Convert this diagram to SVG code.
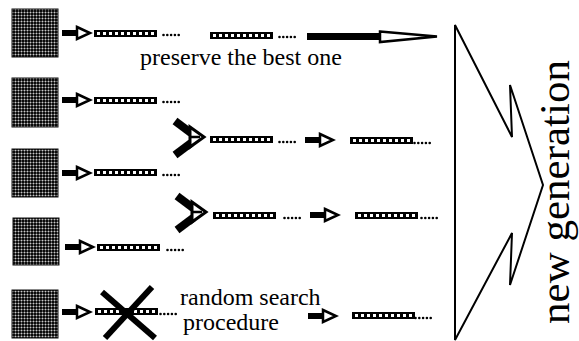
<svg xmlns="http://www.w3.org/2000/svg" xmlns:xlink="http://www.w3.org/1999/xlink" width="579" height="341" viewBox="0 0 579 341">
<style>
.txt{font-family:"Liberation Serif","Times New Roman",serif;fill:#000}
.sq{fill:url(#grid);stroke:#111;stroke-width:1}
.cross{stroke:#000;stroke-width:6;fill:none}
.big{fill:#fff;stroke:#000;stroke-width:2;stroke-linejoin:miter}
</style>
<defs>
<pattern id="grid" width="3" height="3" patternUnits="userSpaceOnUse">
<rect width="3" height="3" fill="#0a0a0a"/>
<rect x="0" y="0" width="3" height="1" fill="#555"/>
<rect x="0" y="0" width="1" height="3" fill="#555"/>
<rect x="0" y="0" width="1" height="1" fill="#c8c8c8"/>
</pattern>
<g id="chrom">
<rect x="0" y="0" width="63" height="7" fill="#000"/>
<rect x="3" y="2" width="3" height="3" fill="#fff"/>
<rect x="9" y="2" width="3" height="3" fill="#fff"/>
<rect x="15" y="2" width="3" height="3" fill="#fff"/>
<rect x="21" y="2" width="3" height="3" fill="#fff"/>
<rect x="27" y="2" width="3" height="3" fill="#fff"/>
<rect x="33" y="2" width="3" height="3" fill="#fff"/>
<rect x="39" y="2" width="3" height="3" fill="#fff"/>
<rect x="45" y="2" width="3" height="3" fill="#fff"/>
<rect x="51" y="2" width="3" height="3" fill="#fff"/>
<rect x="57" y="2" width="3" height="3" fill="#fff"/>
</g>
<g id="dots" fill="#000">
<circle cx="1.5" cy="0" r="1.3"/>
<circle cx="5.3" cy="0" r="1.3"/>
<circle cx="9.1" cy="0" r="1.3"/>
<circle cx="12.9" cy="0" r="1.3"/>
<circle cx="16.7" cy="0" r="1.3"/>
</g>
<g id="arr">
<rect x="0" y="-3" width="16" height="6" fill="#000"/>
<polygon points="15,-6 28,0 15,6" fill="#fff" stroke="#000" stroke-width="2.5"/>
</g>
<g id="merge">
<line x1="-29" y1="-16" x2="-13" y2="-4" stroke="#000" stroke-width="8"/>
<line x1="-29" y1="18" x2="-13" y2="6" stroke="#000" stroke-width="8"/>
<polygon points="-14,-10 0,0 -14,10" fill="#fff" stroke="#000" stroke-width="3"/>
<line x1="-14" y1="0" x2="-4" y2="0" stroke="#000" stroke-width="2.5"/>
</g>
</defs>
<rect width="579" height="341" fill="#fff"/>

<g id="row1">
<rect class="sq" x="12" y="9" width="46" height="48"/>
<use href="#chrom" x="94" y="30"/>
<use href="#dots" x="162" y="35"/>
<use href="#chrom" x="210" y="32"/>
<use href="#dots" x="278" y="37"/>
<text class="txt" font-family="Liberation Serif, serif" x="140" y="65" font-size="24">preserve the best one</text>
</g>
<g id="row2">
<rect class="sq" x="12" y="78" width="46" height="49"/>
<use href="#chrom" x="94" y="97"/>
<use href="#dots" x="162" y="102"/>
</g>
<g id="row3">
<rect class="sq" x="12" y="149" width="46" height="48"/>
<use href="#chrom" x="94" y="169"/>
<use href="#dots" x="162" y="175"/>
</g>
<g id="row4">
<rect class="sq" x="13" y="218" width="46" height="47"/>
<use href="#chrom" x="97" y="244"/>
<use href="#dots" x="166" y="250"/>
</g>
<g id="row5">
<rect class="sq" x="12" y="290" width="46" height="48"/>
<use href="#chrom" x="95" y="308"/>
<use href="#dots" x="159" y="314"/>
<line class="cross" x1="102" y1="292" x2="155" y2="338"/>
<line class="cross" x1="152" y1="287" x2="105" y2="338"/>
<text class="txt" font-family="Liberation Serif, serif" x="180" y="305" font-size="24">random search</text>
<text class="txt" font-family="Liberation Serif, serif" x="183" y="330" font-size="24">procedure</text>
</g>
<g id="child1">
<use href="#chrom" x="210" y="136"/>
<use href="#dots" x="278" y="142"/>
<use href="#chrom" x="350" y="137"/>
<use href="#dots" x="413" y="143"/>
</g>
<g id="child2">
<use href="#chrom" x="213" y="212"/>
<use href="#dots" x="283" y="218"/>
<use href="#chrom" x="355" y="212"/>
<use href="#dots" x="420" y="218"/>
</g>
<g id="child3">
<use href="#chrom" x="352" y="312"/>
<use href="#dots" x="414" y="318"/>
</g>
<g id="newgen">
<polygon class="big" points="455,25 512,137 510,85 543,185 510,285 512,233 455,340"/>
<text class="txt" font-family="Liberation Serif, serif" transform="translate(569,192) rotate(-90)" text-anchor="middle" font-size="43">new generation</text>
</g>

<g id="connectors">
<use href="#arr" x="62" y="33"/>
<use href="#arr" x="62" y="100"/>
<use href="#arr" x="62" y="173"/>
<use href="#arr" x="65" y="247"/>
<use href="#arr" x="62" y="312"/>
<use href="#merge" x="204" y="137"/>
<use href="#merge" x="206" y="212"/>
<use href="#arr" x="305" y="140"/>
<use href="#arr" x="310" y="215"/>
<use href="#arr" x="308" y="316"/>
<rect x="307" y="33" width="74" height="7" fill="#000"/>
<polygon points="380,31.5 437,36.5 380,42" fill="#fff" stroke="#000" stroke-width="2.5"/>
</g>
</svg>
